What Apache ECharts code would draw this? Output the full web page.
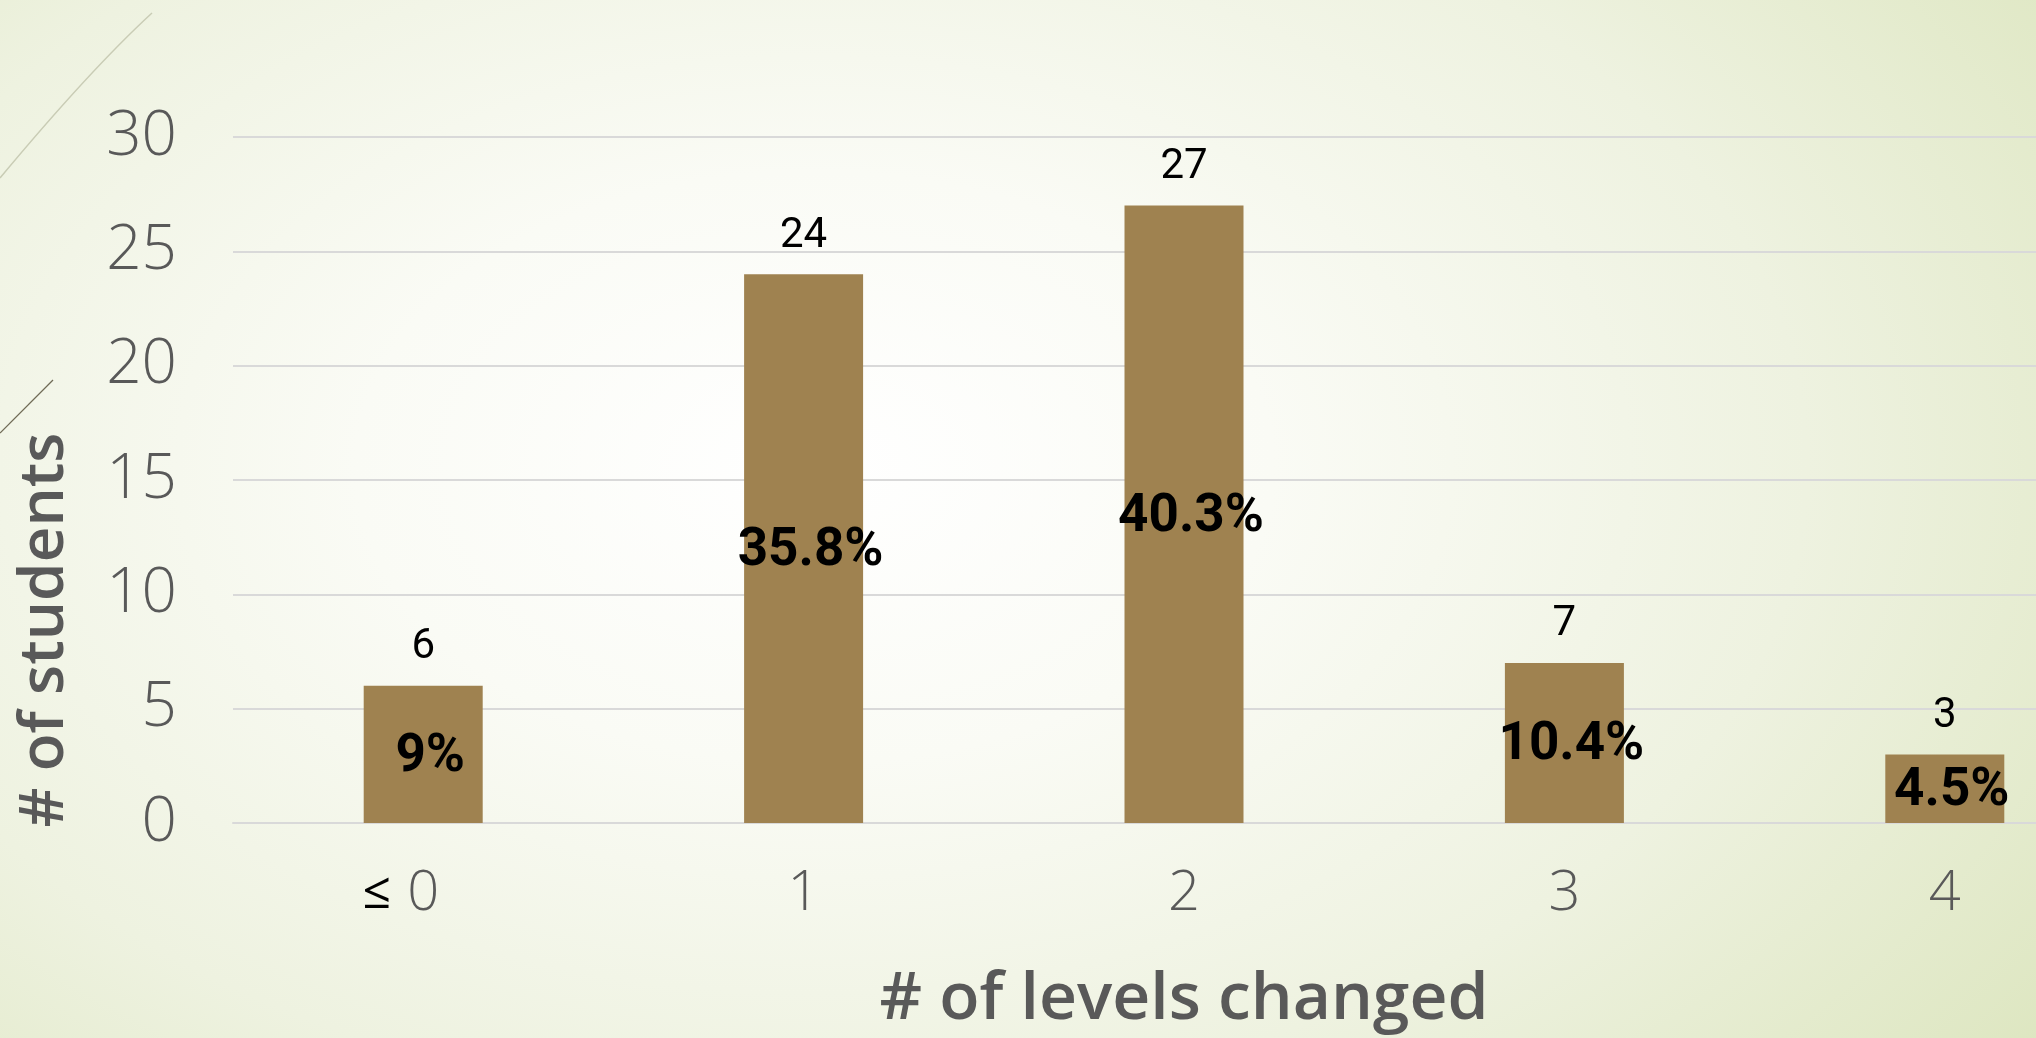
<!DOCTYPE html>
<html>
<head>
<meta charset="utf-8">
<script src="https://cdn.jsdelivr.net/npm/echarts@6/dist/echarts.min.js"></script>
<style>
  html, body { margin: 0; padding: 0; width: 2036px; height: 1038px; overflow: hidden; }
  body {
    background: radial-gradient(ellipse 75% 95% at 40% 45%, #ffffff 0%, #fafbf5 30%, #eef2e0 65%, #dde6c0 100%);
  }
  #chart { width: 2135px; height: 1038px; }
</style>
</head>
<body>
<div id="chart"></div>
<script>
// ---- data ----
const categories = ['≤ 0', '1', '2', '3', '4'];
const students = [6, 24, 27, 7, 3];
const percentLabels = ['9%', '35.8%', '40.3%', '10.4%', '4.5%'];
const yTicks = { min: 0, max: 30, interval: 5 };
const xAxisTitle = '# of levels changed';
const yAxisTitle = '# of students';

const chart = echarts.init(document.getElementById('chart'), null, { renderer: 'canvas' });

const option = {
  animation: false,
  grid: { left: 233, top: 137, right: 0, bottom: 209, containLabel: false },
  xAxis: {
    type: 'category',
    data: categories,
    axisLine: { show: true, lineStyle: { color: '#d9d9d9', width: 2 } },
    axisTick: { show: false },
    axisLabel: {
      interval: 0,
      margin: 43,
      color: '#595959',
      fontFamily: 'Open Sans',
      fontWeight: 300,
      fontSize: 56,
      formatter: function (v) {
        if (v.indexOf('≤') === 0) {
          return '{le|≤ }{n|' + v.replace('≤', '').trim() + '}{sp|}';
        }
        return v;
      },
      rich: {
        le: { color: '#000000', fontFamily: 'Open Sans', fontWeight: 400, fontSize: 50, width: 48 },
        n: { color: '#595959', fontFamily: 'Open Sans', fontWeight: 300, fontSize: 56 },
        sp: { width: 48 }
      }
    },
    name: xAxisTitle,
    nameLocation: 'middle',
    nameGap: 144,
    nameTextStyle: { color: '#595959', fontFamily: 'Open Sans', fontWeight: 600, fontSize: 66 }
  },
  yAxis: {
    type: 'value',
    min: yTicks.min, max: yTicks.max, interval: yTicks.interval,
    axisLine: { show: false },
    axisTick: { show: false },
    splitLine: { lineStyle: { color: '#d9d9d9', width: 2 } },
    axisLabel: {
      margin: 56,
      color: '#595959',
      fontFamily: 'Open Sans',
      fontWeight: 300,
      fontSize: 62
    }
  },
  graphic: [
    {
      type: 'text',
      x: 45, y: 630,
      rotation: Math.PI / 2,
      style: {
        text: yAxisTitle,
        fill: '#595959',
        fontFamily: 'Open Sans',
        fontWeight: 600,
        fontSize: 62,
        align: 'center',
        verticalAlign: 'middle'
      }
    },
    {
      type: 'bezierCurve',
      shape: { x1: 152, y1: 13, x2: 0, y2: 178, cpx1: 90, cpy1: 70 },
      style: { stroke: '#c9ccb5', lineWidth: 1.5, fill: null }
    },
    {
      type: 'line',
      shape: { x1: 53, y1: 380, x2: 0, y2: 433 },
      style: { stroke: '#6f6a55', lineWidth: 1.2 }
    }
  ],
  series: [
    {
      type: 'bar',
      data: students,
      barWidth: 119,
      itemStyle: { color: '#9f8250' },
      label: {
        show: true,
        position: 'top',
        distance: 17,
        color: '#000000',
        fontFamily: 'Roboto',
        fontSize: 42
      },
      z: 2
    },
    {
      type: 'bar',
      data: students,
      barWidth: 119,
      barGap: '-100%',
      silent: true,
      itemStyle: { color: 'rgba(0,0,0,0)' },
      label: {
        show: true,
        position: 'inside',
        offset: [7, 3],
        color: '#000000',
        fontFamily: 'Roboto',
        fontWeight: 'bold',
        fontSize: 53,
        formatter: function (p) { return percentLabels[p.dataIndex]; }
      },
      z: 3
    }
  ]
};

chart.setOption(option);
</script>
</body>
</html>
